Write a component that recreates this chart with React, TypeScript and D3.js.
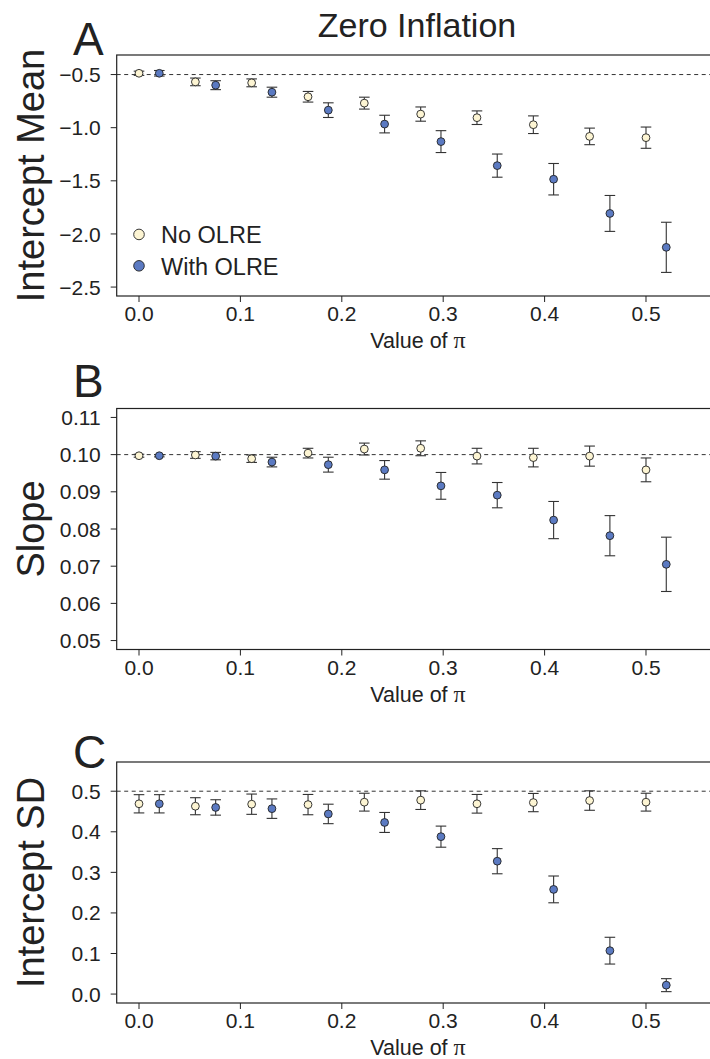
import React from "react";
import * as d3 from "d3";

// x positions (value of pi)
const piNo = [0, 0.0556, 0.1111, 0.1667, 0.2222, 0.2778, 0.3333, 0.3889, 0.4444, 0.5];
const piWith = [0.02, 0.0756, 0.1311, 0.1867, 0.2422, 0.2978, 0.3533, 0.4089, 0.4644, 0.52];
const xTicks = [0, 0.1, 0.2, 0.3, 0.4, 0.5];

// Panel A: intercept mean
const aNo = [-0.488, -0.569, -0.578, -0.709, -0.769, -0.872, -0.906, -0.972, -1.082, -1.094];
const aNoErr = [0.02, 0.036, 0.037, 0.05, 0.056, 0.067, 0.064, 0.083, 0.078, 0.1];
const aWith = [-0.488, -0.6, -0.666, -0.835, -0.966, -1.131, -1.357, -1.485, -1.807, -2.126];
const aWithErr = [0.026, 0.042, 0.047, 0.069, 0.083, 0.103, 0.109, 0.148, 0.169, 0.236];
const aTicks = [-2.5, -2.0, -1.5, -1.0, -0.5];

// Panel B: slope
const bNo = [0.0997, 0.0999, 0.0989, 0.1004, 0.1015, 0.1017, 0.0996, 0.0992, 0.0996, 0.0959];
const bNoErr = [0.0004, 0.0009, 0.001, 0.0013, 0.0016, 0.002, 0.0021, 0.0025, 0.0027, 0.0032];
const bWith = [0.0997, 0.0996, 0.098, 0.0973, 0.0959, 0.0916, 0.0891, 0.0824, 0.0782, 0.0705];
const bWithErr = [0.0003, 0.001, 0.0013, 0.002, 0.0025, 0.0036, 0.0034, 0.005, 0.0054, 0.0073];
const bTicks = [0.05, 0.06, 0.07, 0.08, 0.09, 0.1, 0.11];

// Panel C: intercept SD
const cNo = [0.469, 0.463, 0.468, 0.467, 0.473, 0.478, 0.469, 0.472, 0.477, 0.473];
const cNoErr = [0.0225, 0.021, 0.025, 0.025, 0.022, 0.023, 0.023, 0.0225, 0.024, 0.022];
const cWith = [0.469, 0.46, 0.457, 0.444, 0.423, 0.388, 0.3275, 0.258, 0.107, 0.022];
const cWithErr = [0.0225, 0.019, 0.024, 0.024, 0.0246, 0.026, 0.031, 0.033, 0.033, 0.016];
const cTicks = [0, 0.1, 0.2, 0.3, 0.4, 0.5];

const seriesNames = ["No OLRE", "With OLRE"];
const FILL_NO = "#FDF5D3";
const FILL_WITH = "#5B7AC2";
const INK = "#222";
const FONT = "'Liberation Sans', Arial, Helvetica, sans-serif";

const LEFT = 116.7;
const RIGHT = 719;
const H = 241;

type PanelProps = {
  top: number;
  letter: string;
  letterY: number;
  ylab: string;
  ylim: [number, number];
  yTicks: number[];
  fmt: string;
  ref0: number;
  no: number[];
  noErr: number[];
  wi: number[];
  wiErr: number[];
  legend?: boolean;
};

function expand(lim: [number, number]): [number, number] {
  const r = (lim[1] - lim[0]) * 0.04;
  return [lim[0] - r, lim[1] + r];
}

function Panel(p: PanelProps) {
  const x = d3.scaleLinear().domain(expand([0, 0.55])).range([LEFT, RIGHT]);
  const y = d3.scaleLinear().domain(expand(p.ylim)).range([p.top + H, p.top]);
  const f = d3.format(p.fmt);
  const bottom = p.top + H;
  const cap = 5.3;
  const bars = (xs: number[], ys: number[], es: number[], key: string) =>
    xs.map((xv, i) => {
      const cx = x(xv);
      const y1 = y(ys[i] + es[i]);
      const y2 = y(ys[i] - es[i]);
      return (
        <g key={key + i} stroke="#333" strokeWidth={1.1}>
          <line x1={cx} x2={cx} y1={y1} y2={y2} />
          <line x1={cx - cap} x2={cx + cap} y1={y1} y2={y1} />
          <line x1={cx - cap} x2={cx + cap} y1={y2} y2={y2} />
        </g>
      );
    });
  const pts = (xs: number[], ys: number[], fill: string, key: string) =>
    xs.map((xv, i) => (
      <circle key={key + i} cx={x(xv)} cy={y(ys[i])} r={3.9} fill={fill} stroke={INK} strokeWidth={0.9} />
    ));
  return (
    <g fontFamily={FONT} fill={INK}>
      <text x={73} y={p.letterY} fontSize={46}>{p.letter}</text>
      <text
        transform={`translate(44,${p.top + H / 2}) rotate(-90)`}
        textAnchor="middle"
        fontSize={38}
      >
        {p.ylab}
      </text>
      <line x1={LEFT} x2={RIGHT} y1={y(p.ref0)} y2={y(p.ref0)} stroke="#333" strokeWidth={1} strokeDasharray="4,3.5" />
      {bars(piNo, p.no, p.noErr, "bn")}
      {bars(piWith, p.wi, p.wiErr, "bw")}
      {pts(piNo, p.no, FILL_NO, "pn")}
      {pts(piWith, p.wi, FILL_WITH, "pw")}
      <rect x={LEFT} y={p.top} width={RIGHT - LEFT} height={H} fill="none" stroke={INK} strokeWidth={1.2} />
      {p.yTicks.map((t) => (
        <g key={"yt" + t}>
          <line x1={LEFT - 6} x2={LEFT} y1={y(t)} y2={y(t)} stroke={INK} strokeWidth={1} />
          <text x={LEFT - 16} y={y(t)} dy="0.36em" textAnchor="end" fontSize={21}>
            {f(t)}
          </text>
        </g>
      ))}
      {xTicks.map((t) => (
        <g key={"xt" + t}>
          <line x1={x(t)} x2={x(t)} y1={bottom} y2={bottom + 6} stroke={INK} strokeWidth={1} />
          <text x={x(t)} y={bottom + 25} textAnchor="middle" fontSize={21}>
            {d3.format(".1f")(t)}
          </text>
        </g>
      ))}
      <text x={418} y={bottom + 52} textAnchor="middle" fontSize={21.5}>
        Value of <tspan fontFamily="'Liberation Serif', 'DejaVu Serif', serif" fontSize={24}>π</tspan>
      </text>
      {p.legend && (
        <g>
          <circle cx={139} cy={y(-2.0) + 0.5} r={5.3} fill={FILL_NO} stroke={INK} strokeWidth={0.9} />
          <text x={161} y={y(-2.0) + 9} fontSize={23.5}>{seriesNames[0]}</text>
          <circle cx={139} cy={y(-2.3)} r={5.3} fill={FILL_WITH} stroke={INK} strokeWidth={0.9} />
          <text x={161} y={y(-2.3) + 9} fontSize={23.5}>{seriesNames[1]}</text>
        </g>
      )}
    </g>
  );
}

export default function App() {
  return (
    <svg
      width={710}
      height={1059}
      style={{ position: "absolute", left: 0, top: 0, background: "#fff" }}
    >
      <rect x={0} y={0} width={710} height={1059} fill="#fff" />
      <text x={417} y={37} textAnchor="middle" fontFamily={FONT} fontSize={34} fill={INK}>
        Zero Inflation
      </text>
      <Panel top={55} letter="A" letterY={55} ylab="Intercept Mean" ylim={[-2.5, -0.4]} yTicks={aTicks} fmt=".1f" ref0={-0.5}
        no={aNo} noErr={aNoErr} wi={aWith} wiErr={aWithErr} legend />
      <Panel top={408.5} letter="B" letterY={397} ylab="Slope" ylim={[0.05, 0.11]} yTicks={bTicks} fmt=".2f" ref0={0.1}
        no={bNo} noErr={bNoErr} wi={bWith} wiErr={bWithErr} />
      <Panel top={762} letter="C" letterY={768} ylab="Intercept SD" ylim={[0, 0.55]} yTicks={cTicks} fmt=".1f" ref0={0.5}
        no={cNo} noErr={cNoErr} wi={cWith} wiErr={cWithErr} />
    </svg>
  );
}
